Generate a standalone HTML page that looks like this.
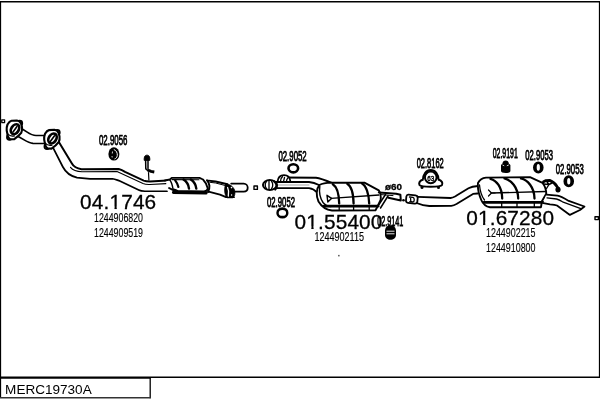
<!DOCTYPE html>
<html><head><meta charset="utf-8">
<style>
html,body{margin:0;padding:0;background:#fff;}
body{width:600px;height:400px;overflow:hidden;position:relative;}
svg{position:absolute;left:0;top:0;will-change:transform;}
text{font-family:"Liberation Sans",sans-serif;fill:#000;}
</style></head><body>
<svg width="600" height="400" viewBox="0 0 600 400">
<!-- frame -->
<g stroke="#000" fill="none">
<path d="M0,1.75 L600,1.75" stroke-width="1.5"/>
<path d="M0.55,1 L0.55,398" stroke-width="1.15"/>
<path d="M599.45,1 L599.45,378" stroke-width="1.15"/>
<path d="M0,377.2 L600,377.2" stroke-width="1.5"/>
<path d="M150.2,377 L150.2,398.2" stroke-width="1.3"/>
<path d="M0,378.1 L150.5,378.1" stroke-width="1.4"/>
<path d="M0,397.8 L150.8,397.8" stroke="#333" stroke-width="1.4"/>
</g>
<text x="5.1" y="393.6" font-size="13.55">MERC19730A</text>

<!-- big part numbers -->
<g font-size="20.8" letter-spacing="0.15" stroke="#000" stroke-width="0.3">
<text x="80.1" y="209">04.1746</text>
<text x="294.6" y="228.8">01.55400</text>
<text x="466.3" y="224.7">01.67280</text>
</g>

<g stroke="none"><rect x="110.07" y="206.60" width="4.40" height="3.5" fill="#fff"/><rect x="116.77" y="206.60" width="4.2" height="3.5" fill="#fff"/><rect x="113.97" y="209.25" width="3.4" height="0.9" fill="#fff"/><rect x="306.92" y="226.40" width="4.40" height="3.5" fill="#fff"/><rect x="313.62" y="226.40" width="4.2" height="3.5" fill="#fff"/><rect x="310.82" y="229.05" width="3.4" height="0.9" fill="#fff"/><rect x="478.62" y="222.30" width="4.40" height="3.5" fill="#fff"/><rect x="485.32" y="222.30" width="4.2" height="3.5" fill="#fff"/><rect x="482.52" y="224.95" width="3.4" height="0.9" fill="#fff"/></g>
<!-- OE numbers -->
<g font-size="12.3" stroke="#000" stroke-width="0.15">
<text x="94" y="221.6" textLength="49" lengthAdjust="spacingAndGlyphs">1244906820</text>
<text x="94" y="236.6" textLength="49" lengthAdjust="spacingAndGlyphs">1244909519</text>
<text x="314.5" y="240.5" textLength="49.5" lengthAdjust="spacingAndGlyphs">1244902115</text>
<text x="486" y="237" textLength="49.5" lengthAdjust="spacingAndGlyphs">1244902215</text>
<text x="486" y="252" textLength="49.5" lengthAdjust="spacingAndGlyphs">1244910800</text>
</g>
<!-- small labels -->
<g font-size="13.9" stroke="#000" stroke-width="0.75">
<text x="99" y="145.3" textLength="28.4" lengthAdjust="spacingAndGlyphs">02.9056</text>
<text x="278.4" y="161.4" textLength="28.3" lengthAdjust="spacingAndGlyphs">02.9052</text>
<text x="267" y="207" textLength="28" lengthAdjust="spacingAndGlyphs">02.9052</text>
<text x="377.2" y="225.7" textLength="26.2" lengthAdjust="spacingAndGlyphs">02.9141</text>
<text x="416.7" y="167.7" textLength="27.1" lengthAdjust="spacingAndGlyphs">02.8162</text>
<text x="492.7" y="157.5" textLength="25.1" lengthAdjust="spacingAndGlyphs">02.9191</text>
<text x="525.3" y="160.3" textLength="27.7" lengthAdjust="spacingAndGlyphs">02.9053</text>
<text x="555.8" y="174" textLength="28" lengthAdjust="spacingAndGlyphs">02.9053</text>
</g>
<text x="385" y="190.3" textLength="17" lengthAdjust="spacingAndGlyphs" font-size="9.6" font-weight="bold" stroke="#000" stroke-width="0.3">ø60</text>

<g fill="none" stroke="#000" stroke-width="1.7" stroke-linejoin="round" stroke-linecap="round">
<!-- small squares -->
<rect x="1.8" y="119.8" width="2.8" height="2.8" stroke-width="1.3" fill="#fff"/>
<rect x="254" y="186" width="3.4" height="3.4" stroke-width="1.4"/>
<rect x="595" y="216.8" width="3.4" height="2.8" stroke-width="1.4"/>

<!-- ===== front pipe 04.1746 ===== -->
<path d="M20,128 C27,131 30,135.5 36,135.5 L46,135.5"/>
<path d="M17,136 C24,139 27,143 33,143.3 L46,143.5"/>
<!-- flange 1 -->
<g transform="translate(14.5,130)">
<circle cx="5.2" cy="-6.8" r="2.5" fill="#fff" stroke-width="1.9"/>
<circle cx="-5" cy="7.2" r="2.5" fill="#fff" stroke-width="1.9"/>
<path d="M-7,-5.5 C-5.5,-8 -4,-9 -3,-9.2 L2.5,-9.5 C4.5,-9.2 5.8,-8 6.5,-6.5 L7.5,-3 C7.8,-0.5 7.5,1.5 6.8,2.8 L3.5,6.2 L-0.5,9.3 L-4.5,9.1 C-6,8 -6.5,7 -6.8,5.5 L-7.8,0.5 C-8,-2 -7.6,-4 -7,-5.5 Z" fill="#fff" stroke-width="2.1"/>
<ellipse cx="0.5" cy="-0.8" rx="5.3" ry="3.7" transform="rotate(-58 0.5 -0.8)" fill="#fff" stroke-width="2.7"/>
<path d="M-1.5,2 L2.5,-3.5" stroke-width="1.6"/>
<circle cx="-3.6" cy="6.3" r="1" fill="#fff" stroke="none"/>
<path d="M-7,3.5 C-5,6 -2.5,6.5 0,5.8" stroke-width="1.2"/>
</g>
<!-- pipe 2 -->
<path d="M52.25,146.2 L62.9,167 C65,171 70,176 77,177.6 L90,178.8 L112.5,178.75 C115,179 117,180 118.75,180.6 L138.75,190 C140,190.8 142,191.25 145,191.25 L167,191.25"/>
<path d="M59,142.25 L71.9,163.6 C73.5,166.5 76,168.5 81.5,169.2 L118.75,169 C121,169.5 123,170.5 125,171.9 L143.75,180.6 C145.5,181.3 147.5,181.5 150,181.5 L167,180.6" stroke-width="2"/>
<path d="M70.5,167.3 C73.5,171 77,171.5 82,171.7 L117,171.5 L143,183.6 C145.5,184.6 148,184.6 150,184.5 L166,183.6" stroke-width="1.1"/>
<!-- flange 2 -->
<g transform="translate(52,139.3)">
<circle cx="5.2" cy="-6.8" r="2.5" fill="#fff" stroke-width="1.9"/>
<circle cx="-5" cy="7.2" r="2.5" fill="#fff" stroke-width="1.9"/>
<path d="M-7,-5.5 C-5.5,-8 -4,-9 -3,-9.2 L2.5,-9.5 C4.5,-9.2 5.8,-8 6.5,-6.5 L7.5,-3 C7.8,-0.5 7.5,1.5 6.8,2.8 L3.5,6.2 L-0.5,9.3 L-4.5,9.1 C-6,8 -6.5,7 -6.8,5.5 L-7.8,0.5 C-8,-2 -7.6,-4 -7,-5.5 Z" fill="#fff" stroke-width="2.1"/>
<ellipse cx="0.5" cy="-0.8" rx="5.3" ry="3.7" transform="rotate(-58 0.5 -0.8)" fill="#fff" stroke-width="2.7"/>
<path d="M-1.5,2 L2.5,-3.5" stroke-width="1.6"/>
<circle cx="-3.6" cy="6.3" r="1" fill="#fff" stroke="none"/>
<path d="M-7,3.5 C-5,6 -2.5,6.5 0,5.8" stroke-width="1.2"/>
</g>
<!-- sensor -->
<path d="M144.2,160 C144,156.5 145,155.2 147,155.2 C149,155.2 150,156.5 149.8,160 Z" fill="#000" stroke="#000" stroke-width="1"/>
<path d="M145.6,160 L145.8,168.8 L148.3,170.8 M148,160 L148,168.5" stroke-width="1.5"/>
<path d="M147.8,170 L151,171.4 L154.3,172" stroke-width="2.8" stroke-linecap="butt"/>
<path d="M148.5,172.5 L148.9,180" stroke-width="1.2"/>
<!-- converter -->
<path d="M165,180.5 L169.7,179.5 L172,177.8 L199.5,177.9 L203,179.5 C205,181.5 207,185 207.8,188.5 C207.5,190.5 206.5,191.3 204,191.5 L178,191 C174,190.6 171,189.5 169,188" fill="#fff" stroke-width="1.8"/>
<path d="M172,179.6 L199,179.8" stroke-width="1.1"/>
<path d="M173.5,192.3 L206,193" stroke-width="3.2"/>
<path d="M169.7,179.8 C171.5,182 172.5,186 173,189 L176,190" stroke-width="1.4"/>
<path d="M175.2,180.4 C176.8,182.5 177.8,184.5 178.4,187" stroke-width="2.2"/>
<path d="M183.5,179.6 C186.5,181.5 188.5,184.5 189,188.6" stroke-width="2.4"/>
<path d="M190.8,179.6 C193.8,181.5 195.8,184.5 196.3,188.6" stroke-width="2.4"/>
<!-- outlet -->
<path d="M208.5,180.6 L215.6,181.5 L227.5,184.2" stroke-width="1.9"/>
<path d="M210,182.3 L215.6,183 L226,185.7" stroke-width="1"/>
<path d="M208.5,191.6 L220,194.6 L226,197.2 L234,197.2" stroke-width="1.8"/>
<path d="M207,180.2 C209.8,183 210.2,188 208,192" stroke-width="2"/>
<path d="M231.2,183.6 L243.7,183.6 C246,183.6 247.7,185.5 247.7,187.8 C247.7,190.1 246,191.6 243.7,191.6 L233,191.6" stroke-width="1.8"/>
<path d="M225.8,184 C229.5,183.8 233.2,186.5 234.5,190 C235.4,193 235,196.6 232.5,197.8 L227.5,197.8 C225.8,196.8 224.8,194 224.7,191 C224.6,188 225,185.5 225.8,184 Z" fill="#000" stroke-width="0.8"/>
<path d="M227.6,187.5 C228.6,189.5 229,193 228.3,196" stroke="#fff" stroke-width="1.3"/>
<circle cx="231.5" cy="187.6" r="0.8" fill="#fff" stroke="none"/>
<circle cx="231.6" cy="195" r="0.7" fill="#fff" stroke="none"/>

<!-- ===== middle 01.55400 ===== -->
<path d="M283,177.5 L316,177.7 C321,178.2 325,180 333,183.5" stroke-width="1.9"/>
<path d="M276,182 L309,182 C312,182.3 315,183 319,185" stroke-width="1.8"/>
<path d="M276,185 L309,185" stroke="#999" stroke-width="0.9"/>
<path d="M276,188.1 L309,188.1 C312,188.5 314.5,189.5 316.5,192" stroke-width="1.9"/>
<!-- flanges -->
<g transform="translate(269.8,185)">
<ellipse cx="0" cy="0" rx="6.8" ry="4.9" fill="#fff" stroke-width="2"/>
<path d="M-3.3,-3.5 C-5,-2 -5,2 -3.3,3.5 M-0.8,-3.8 L-0.8,3.8 M1.8,-3.5 C3.3,-2 3.3,2 1.8,3.5" stroke-width="1.3"/>
<path d="M4.5,-3.5 C7.5,-1.5 8,2.5 5.5,4.5" stroke-width="2.2"/>
</g>
<g transform="translate(284,178.8)">
<path d="M-6.5,3 C-6,-1.5 -3,-3.6 0,-3.6 C3,-3.6 6,-1.5 6.5,3 Z" fill="#fff" stroke-width="1.8"/>
<path d="M-3.5,2.8 C-3.5,0 -2.5,-1.5 -1.5,-2.2 M-0.5,2.8 L0.5,-1.5 M2.5,2.8 C2.5,1 3.5,-0.5 4,-1" stroke-width="1.3"/>
</g>
<!-- muffler 1 -->
<path d="M319.5,185 C322,183.5 326,182.7 331,182.6 L364.4,182.7 L378.8,190.4 C380.5,192.5 381,195 380.8,197.5 L380.6,200 L377,207.5 L375.5,210.3 L332,210.5 C326,209.8 321.5,206.5 318.5,201.5 C316,196 316,189 319.5,185 Z" fill="#fff" stroke-width="1.9"/>
<path d="M319.8,186.5 C319,192 320,198 323,202.5 C325,205 327.5,206.3 331,206.5" stroke-width="1.4"/>
<path d="M332.8,184.2 C336.5,186.5 339,194 339.2,203.5" stroke-width="2.3"/>
<path d="M347.3,183.8 C351,186 353.4,194 353.6,203.5" stroke-width="2.3"/>
<path d="M362,183.4 C366,185.5 369,194 369.2,203.5" stroke-width="2.3"/>
<path d="M331,198.3 L379,195" stroke-width="1.3"/>
<path d="M327,195.3 L331.5,198.4 L327.8,202 Z" fill="#fff" stroke-width="1.4"/>
<path d="M324,206.2 L378,206.2" stroke-width="2.8"/>
<path d="M339.2,206 L339.2,210 M353.6,206 L353.6,210 M369.2,206 L369.2,210" stroke-width="1.3"/>
<!-- outlet mid -->
<path d="M378.8,192.4 L396.2,193.7 L400.4,194.8 L400.8,200.6 L388.4,197.8" stroke-width="2"/>
<path d="M381,194.6 L393,195.6" stroke-width="1"/>
<path d="M385.5,194.5 L378.3,205.5 M388,196 L380.5,208" stroke-width="1.5"/>
<circle cx="403.5" cy="200.2" r="1.3" fill="#000" stroke="none"/>
<path d="M408.5,194.6 L415.5,195.4 C417,195.6 417.8,196.6 417.7,198 L417.3,201.8 C417.1,203 416,203.8 414.5,203.6 L408,202.8 C406.5,202.6 405.8,201.5 406,200 L406.4,196.4 C406.6,195.2 407.4,194.5 408.5,194.6 Z" stroke-width="1.8" fill="#fff"/>
<path d="M409.5,197 L413,197.4 C414.6,198 414.7,201.5 413,202 L409.8,201.6 M410.5,197.2 L410.8,201.6" stroke-width="1.3"/>
<!-- connecting pipe -->
<path d="M417.6,196.8 L450.5,198 C452.5,197.8 454,197 455.75,196.1 L468.5,188.25 C471,186.8 473.5,186.2 478,186" stroke-width="1.8"/>
<path d="M417.3,203.3 C420,204.5 425,205.8 429.3,206 L451.25,205.9 C453.5,205.5 455,204.8 456.5,204 L473,193.9 L477.5,193.5" stroke-width="1.8"/>

<!-- ===== rear 01.67280 ===== -->
<path d="M478,183 C479.5,180 482,178 486,177.6 L530,177.2 L542.5,182.8 C544.5,185.5 546.25,190 546.25,193.75 L541.9,201.25 L541,207.2 L490,207.3 C486,206.5 483,204 481.5,200.5 C479,195 477.5,188 478,183 Z" fill="#fff" stroke-width="1.9"/>
<path d="M479.5,185 C480,191 481.5,196 484.5,200" stroke-width="1.3"/>
<path d="M490.5,178.8 C496.5,180.5 502,187 502.2,198.5" stroke-width="2.3"/>
<path d="M504.5,178.4 C511,180 518,187 518.2,198.5" stroke-width="2.3"/>
<path d="M521,178.4 C527.5,180 534.3,187 534.5,198.5" stroke-width="2.3"/>
<path d="M491,193 L545.5,191.5" stroke-width="1.3"/>
<path d="M488.5,190 L491.5,193 L488.5,196 M491.5,193 L495,193" stroke-width="1.2"/>
<path d="M484,202.3 L543,202.3" stroke-width="2.8"/>
<path d="M501.7,203 L501.7,207 M517,203 L517,207 M534.3,203 L534.3,207" stroke-width="1.3"/>
<!-- tail pipe -->
<path d="M546.25,194.6 L557.5,195.6 C560,196 563,197.5 568.75,200.9 L584.5,206.5 L580,210 L569.9,214.9 L557,205.5 C555.5,204.8 553,204.5 550,204.3 L543.4,203.1" fill="#fff" stroke-width="1.8"/>
<path d="M547,197.8 L556.5,199 C558.5,199.4 560.5,200.5 562.5,201.8 L581.5,208.8" stroke-width="1.3"/>
<!-- hanger -->
<path d="M543.5,181.8 L546,180.6 L549.6,180.4 C552.5,181.5 555.5,184 557,186.5 C558,188 558.6,189 558.8,190" stroke-width="2.8"/>
<path d="M543.4,184 L549,184.5 L552,183 M549,184.5 L546.5,188.5 M546,180.5 L549,184.5" stroke-width="1.4"/>
<ellipse cx="558" cy="189.6" rx="2.6" ry="2.9" fill="#000" stroke="none"/>
</g>

<!-- rings & mounts -->
<g fill="none" stroke="#000">
<ellipse cx="113.9" cy="153.9" rx="5.5" ry="6.7" fill="#000" stroke="none"/>
<path d="M113.8,149.5 C116.5,150.5 117.5,153 117.3,155.5 C117,157.5 116,158.5 114.5,159" stroke="#fff" stroke-width="1"/>
<path d="M112.5,151.5 L112.3,153.5 M112,156 L112.2,157.5" stroke="#fff" stroke-width="0.8"/>
<path fill-rule="evenodd" fill="#000" stroke="none" d="M287.2,168.3 a6.1,5.4 0 1,0 12.2,0 a6.1,5.4 0 1,0 -12.2,0 Z M289.8,168.3 a3.5,2.8 0 1,0 7.0,0 a3.5,2.8 0 1,0 -7.0,0 Z"/>
<path fill-rule="evenodd" fill="#000" stroke="none" d="M276.29999999999995,212.9 a6.1,5.7 0 1,0 12.2,0 a6.1,5.7 0 1,0 -12.2,0 Z M278.7,212.9 a3.7,2.9 0 1,0 7.4,0 a3.7,2.9 0 1,0 -7.4,0 Z"/>
<path fill-rule="evenodd" fill="#000" stroke="none" d="M533.0,167.4 a5.3,6.0 0 1,0 10.6,0 a5.3,6.0 0 1,0 -10.6,0 Z M536.6999999999999,167.4 a1.6,3.3 0 1,0 3.2,0 a1.6,3.3 0 1,0 -3.2,0 Z"/>
<path fill-rule="evenodd" fill="#000" stroke="none" d="M563.45,181.25 a5.3,5.9 0 1,0 10.6,0 a5.3,5.9 0 1,0 -10.6,0 Z M567.15,181.25 a1.6,3.2 0 1,0 3.2,0 a1.6,3.2 0 1,0 -3.2,0 Z"/>
<!-- 02.9141 -->
<path d="M385,231 C385,227 387.5,225.2 390.4,225.2 C393.5,225.2 396,227 396,231 L396,235 C396,238 393.5,239.8 390.4,239.8 C387.5,239.8 385,238 385,235 Z" fill="#000" stroke="none"/>
<path d="M386.5,231.2 L394.5,231.2 M386.5,233.8 L394.5,233.8" stroke="#fff" stroke-width="0.9"/>
<!-- 02.9191 -->
<path d="M502.5,163.5 C502.5,161.5 504,160.4 505.7,160.4 C507.4,160.4 508.8,161.5 508.8,163.5 L510.4,165 L510.4,171 C510.4,172.3 508.5,173 505.7,173 C502.9,173 501,172.3 501,171 L501,165 Z" fill="#000" stroke="none"/>
<path d="M502.5,165 L504.2,165.8 M506.8,165.8 L508.8,165" stroke="#fff" stroke-width="0.8"/>
<!-- 02.8162 -->
<path d="M423,180.5 C423,174 426.5,170.2 430.75,170.2 C435,170.2 438.5,174 438.5,180.5" stroke-width="2.3"/>
<path d="M423.5,179.5 C419.5,180.5 418.6,183 419.5,185 C420.5,186.5 423,186.8 430.75,186.8 C438.5,186.8 441,186.5 442,185 C443,183 442,180.5 438,179.5" stroke-width="2" fill="#fff"/>
<circle cx="430.75" cy="177.4" r="5.8" stroke-width="1.9" fill="#fff"/>
<circle cx="422" cy="187.4" r="1.5" fill="#000" stroke="none"/>
<circle cx="438.5" cy="187.4" r="1.5" fill="#000" stroke="none"/>
<text x="427.3" y="180.8" font-size="8" textLength="7" lengthAdjust="spacingAndGlyphs" stroke="#000" stroke-width="0.4">63</text>
<rect x="338.1" y="254.9" width="1.5" height="1.5" fill="#555" stroke="none"/>
</g>
</svg>
</body></html>
